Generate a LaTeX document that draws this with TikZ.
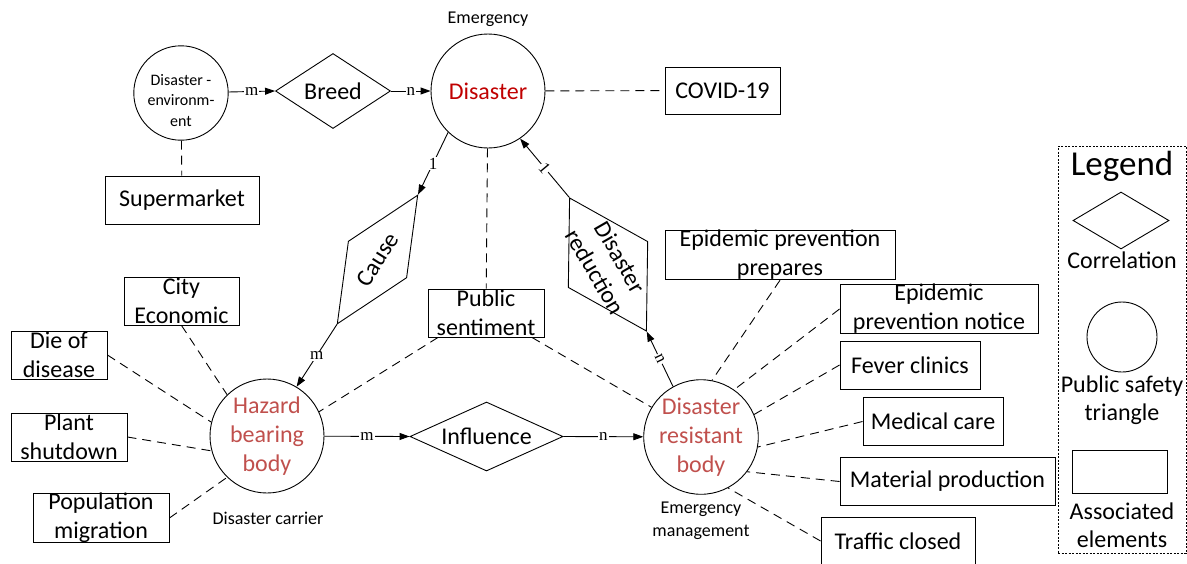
\documentclass[tikz,border=0pt]{standalone}
\usepackage{fontspec}
\setmainfont{Carlito}
\newfontfamily\lblserif{Liberation Serif}
\usetikzlibrary{shapes.geometric,arrows.meta}
\newcommand{\fsMain}{\fontsize{24}{29}\selectfont}
\newcommand{\fsSmall}{\fontsize{18}{23}\selectfont}
\newcommand{\fsEnv}{\fontsize{16}{20.5}\selectfont}
\newcommand{\fsLeg}{\fontsize{35}{40}\selectfont}
\newcommand{\fsLbl}{\fontsize{17}{20}\selectfont\lblserif}
\definecolor{disred}{HTML}{C00000}
\definecolor{bodyred}{HTML}{C0504D}
\begin{document}
\begin{tikzpicture}[x=1pt,y=-1pt, line width=0.9pt,
 circ/.style={draw, circle, inner sep=0pt, align=center, font=\fsMain},
 elem/.style={draw, rectangle, inner sep=0pt, minimum height=48pt, align=center, font=\fsMain},
 rel/.style={draw, diamond, inner sep=0pt, font=\fsMain, align=center, aspect=2.2},
 conn/.style={-{Triangle[length=10pt,width=7pt]}},
 assoc/.style={dash pattern=on 9pt off 6pt},
 lbl/.style={fill=white, inner sep=1pt, font=\fsLbl},
 note/.style={font=\fsSmall, align=center, inner sep=0pt},
 legtext/.style={font=\fontsize{24}{28}\selectfont, align=center, inner sep=0pt}]
\useasboundingbox (0,0) rectangle (1187,563);

% top row
\node[circ, minimum size=92pt, font=\fsEnv] (denv) at (181,93) {\rule{0pt}{26pt}Disaster -\\environm-\\ent};
\node[circ, minimum size=114pt, text=disred] (dis) at (488,91) {Disaster};
\node[note] (emg) at (488,19) {Emergency};
\node[rel, minimum width=115pt, minimum height=75pt] (breed) at (333,91) {Breed};
\node[elem, minimum width=154pt] (sup) at (182,200) {Supermarket};
\node[elem, minimum width=115pt, minimum height=47pt] (covid) at (722.5,90.5) {COVID-19};

% rotated relations
\node[rel, rotate=58, minimum width=152pt, minimum height=69pt] (cause) at (377.5,259.5) {Cause};
\node[rel, rotate=-60, minimum width=154pt, minimum height=92pt] (dred) at (608,264.5) {};
\node[rotate=-60, font=\fsMain, align=center, inner sep=0pt] (dredt) at (dred.center) {Disaster\\reduction};

\node[elem, minimum width=116pt] (pubs) at (486,313) {Public\\sentiment};

% bottom row
\node[circ, minimum size=114pt, text=bodyred] (haz) at (267,436) {Hazard\\bearing\\body};
\node[note] (carrier) at (268,518) {Disaster carrier};
\node[circ, minimum size=114pt, text=bodyred] (res) at (701,437) {Disaster\\resistant\\body};
\node[note] (mgmt) at (701,521) {Emergency\\management};
\node[rel, minimum width=153pt, minimum height=69pt] (infl) at (486.5,436.5) {Influence};

% left elements
\node[elem, minimum width=115pt] (city) at (181.5,301) {City\\Economic};
\node[elem, minimum width=96pt] (die) at (59,355) {Die of\\disease};
\node[elem, minimum width=116pt] (plant) at (69,437) {Plant\\shutdown};
\node[elem, minimum width=136pt] (pop) at (101,518) {Population\\migration};

% right elements
\node[elem, minimum width=230pt] (prep) at (780,255) {Epidemic prevention\\prepares};
\node[elem, minimum width=198pt] (notice) at (939,309) {Epidemic\\prevention notice};
\node[elem, minimum width=140pt] (fever) at (910,365) {Fever clinics};
\node[elem, minimum width=140pt] (medical) at (933,421.5) {Medical care};
\node[elem, minimum width=215pt] (material) at (947.5,481.5) {Material production};
\node[elem, minimum width=154pt] (traffic) at (898,541) {Traffic closed};

% legend
\node[draw, dash pattern=on 2pt off 1.5pt, line width=0.7pt, minimum width=128pt, minimum height=407pt, inner sep=0pt] (legend) at (1122,349.5) {};
\node[font=\fsLeg, inner sep=0pt] (legt) at (1122,166) {Legend};
\node[rel, minimum width=96pt, minimum height=57pt] (legd) at (1121,220.5) {};
\node[legtext] (legdt) at (1122,260) {Correlation};
\node[draw, circle, minimum size=70pt, inner sep=0pt] (legc) at (1122,337) {};
\node[legtext] (legct) at (1122,400) {Public safety\\triangle};
\node[draw, minimum width=95pt, minimum height=43pt, inner sep=0pt] (legr) at (1119.5,471.5) {};
\node[legtext] (legrt) at (1122,525) {Associated\\elements};

% connectors
\draw[conn] (denv) -- node[lbl]{m} (breed.west);
\draw[conn] (breed.east) -- node[lbl]{n} (dis);
\draw[assoc] (denv) -- (sup);
\draw[assoc] (dis) -- (covid);
\draw[assoc] (dis) -- (pubs);
\draw[conn] (dis.226) -- node[lbl]{1} (cause.east);
\draw[conn] (cause.west) -- node[lbl]{m} (haz.59);
\draw[conn] (res.119) -- node[lbl, sloped]{n} (dred.east);
\draw[conn] (dred.west) -- node[lbl, sloped]{1} (dis.304);
\draw[conn] (haz) -- node[lbl]{m} (infl.west);
\draw[conn] (infl.east) -- node[lbl]{n} (res);

\draw[assoc] (pubs.207) -- (haz.25);
\draw[assoc] (pubs.-28) -- (res.149);
\draw[assoc] (city.south) -- (haz.134);
\draw[assoc] (die.east) -- (haz.166);
\draw[assoc] (plant.east) -- (haz.195);
\draw[assoc] (pop.east) -- (haz.226);
\draw[assoc] (prep.south) -- (res.79);
\draw[assoc] (notice.west) -- (res.55);
\draw[assoc] (fever.west) -- (res.23);
\draw[assoc] (medical.west) -- (res.-10);
\draw[assoc] (material.west) -- (res.-37);
\draw[assoc] (traffic.west) -- (res.-62);
\end{tikzpicture}
\end{document}
